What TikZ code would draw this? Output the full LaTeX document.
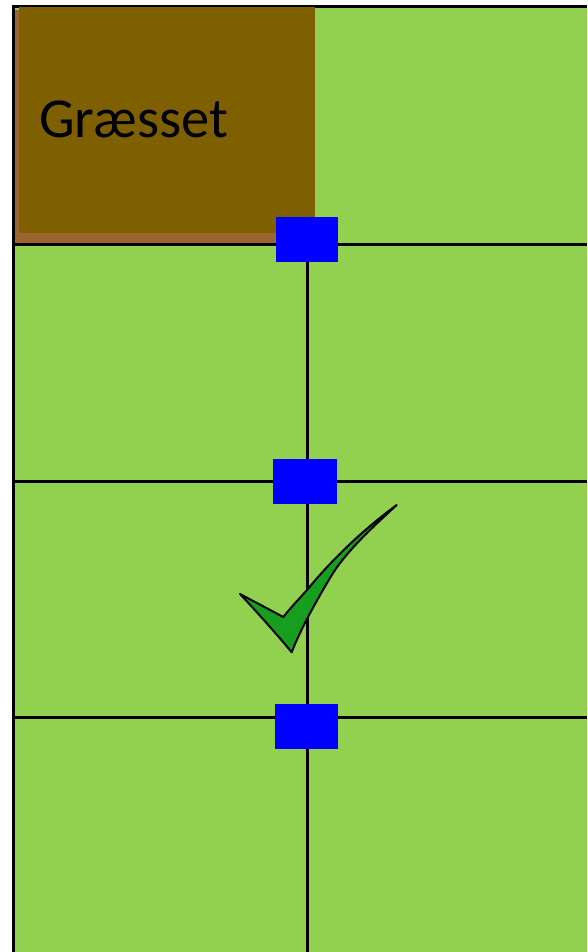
\documentclass[tikz,border=0pt]{standalone}
\usepackage{fontspec}
\setmainfont{Carlito}
\definecolor{grass}{RGB}{146,208,80}
\definecolor{darkbrown}{RGB}{127,96,0}
\definecolor{lightbrown}{RGB}{155,101,50}
\definecolor{checkgreen}{RGB}{22,158,30}
\begin{document}
\begin{tikzpicture}[x=1pt,y=-1pt,
  gridline/.style={line width=3pt,black},
  marker/.style={fill=blue,draw=none,minimum width=62pt,minimum height=45pt,inner sep=0pt,outer sep=0pt}]
\useasboundingbox (0,0) rectangle (587,952);
\fill[white] (0,0) rectangle (587,952);
% field
\fill[grass] (13,7) rectangle (587,952);
% grid coordinates
\coordinate (l1) at (13,244); \coordinate (r1) at (587,244);
\coordinate (l2) at (13,481); \coordinate (r2) at (587,481);
\coordinate (l3) at (13,717); \coordinate (r3) at (587,717);
\coordinate (vt) at (307,244); \coordinate (vb) at (307,952);
\draw[gridline] (l1) -- (r1);
\draw[gridline] (l2) -- (r2);
\draw[gridline] (l3) -- (r3);
\draw[gridline] (vt) -- (vb);
% border
\coordinate (tl) at (13,7); \coordinate (tr) at (587,7); \coordinate (bl) at (13,952);
\draw[line width=3pt,black] (bl) -- (tl) -- (tr);
% brown box
\fill[lightbrown] (15,10) rectangle (300,243);
\fill[darkbrown] (19,7) rectangle (315,233);
\node[anchor=base west,inner sep=0pt,font=\fontsize{56.5}{64}\selectfont] (label) at (39,138) {Græsset};
% markers
\node[marker] (m1) at (307,239.5) {};
\node[marker,minimum width=64pt] (m2) at (305,481.5) {};
\node[marker,minimum width=63pt] (m3) at (306.5,726.5) {};
% check mark
\draw[fill=checkgreen,draw=black,line width=2pt,line join=round]
  (240,594) -- (283.3,617)
  .. controls (292,606) and (300,598) .. (307,590)
  .. controls (330,562) and (360,532) .. (396.7,505)
  .. controls (375,525) and (345,552) .. (330,578)
  .. controls (318,598) and (300,630) .. (291.7,652.3)
  .. controls (275,632) and (255,610) .. (240,594)
  -- cycle;
\end{tikzpicture}
\end{document}
